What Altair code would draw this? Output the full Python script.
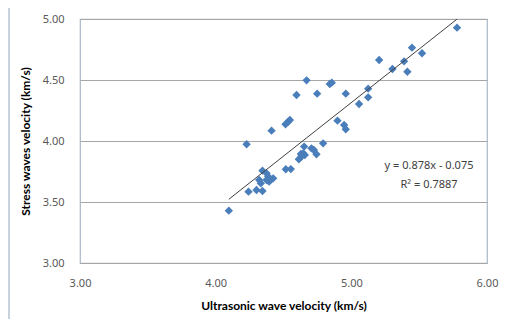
import altair as alt
import pandas as pd
import numpy as np

ultrasonic = [4.097, 4.228, 4.242, 4.301, 4.345, 4.321, 4.333, 4.345, 4.375, 4.387,
              4.375, 4.404, 4.424, 4.394, 4.412, 4.515, 4.534, 4.547, 4.517, 4.554,
              4.596, 4.670, 4.748, 4.841, 4.856, 4.959, 4.898, 4.947, 4.959, 4.652,
              4.706, 4.724, 4.743, 4.792, 4.613, 4.633, 4.645, 4.657, 4.628, 5.057,
              5.124, 5.124, 5.205, 5.303, 5.389, 5.413, 5.447, 5.521, 5.779]
stress = [3.429, 3.973, 3.585, 3.598, 3.590, 3.680, 3.653, 3.757, 3.735, 3.708,
          3.680, 3.689, 3.694, 3.667, 4.085, 4.137, 4.158, 4.172, 3.768, 3.770,
          4.377, 4.497, 4.388, 4.467, 4.478, 4.388, 4.167, 4.131, 4.096, 3.954,
          3.940, 3.926, 3.891, 3.981, 3.850, 3.872, 3.899, 3.885, 3.893, 4.303,
          4.429, 4.358, 4.664, 4.590, 4.653, 4.568, 4.765, 4.719, 4.929]

slope = 0.878
intercept = -0.075
eq_text = "y = 0.878x  -  0.075"
r2_text = "R² = 0.7887"
x_ticks = [3.0, 4.0, 5.0, 6.0]
y_ticks = [3.0, 3.5, 4.0, 4.5, 5.0]

df = pd.DataFrame({"x": ultrasonic, "y": stress})
xs = [min(ultrasonic), max(ultrasonic)]
trend = pd.DataFrame({"x": xs, "y": [slope * v + intercept for v in xs]})

FONT = "Noto Sans"
TFONT = "Lato"
W, H = 407, 244

xscale = alt.Scale(domain=[3, 6], nice=False)
yscale = alt.Scale(domain=[3, 5], nice=False)

xaxis = alt.Axis(title="Ultrasonic wave velocity (km/s)", values=x_ticks, format=".2f",
                 grid=False, ticks=False, domain=False, labelPadding=14, labelFlush=False,
                 labelFontSize=11, labelColor="#595959", labelFont=FONT,
                 titleFont=TFONT, titleFontSize=12, titleFontWeight="bold",
                 titleColor="#000000", titlePadding=12)
yaxis = alt.Axis(title="Stress waves velocity (km/s)", values=y_ticks, format=".2f",
                 grid=True, gridColor="#a6a6a6", ticks=False, domain=False, labelFlush=False,
                 labelPadding=16, labelFontSize=11, labelColor="#595959", labelFont=FONT,
                 titleFont=TFONT, titleFontSize=12, titleFontWeight="bold",
                 titleColor="#000000", titlePadding=10)

frame = alt.Chart(pd.DataFrame({"a": [0]})).mark_rect(
    fill=None, stroke="#b4c4d4", strokeWidth=1.5, clip=False
).encode(x=alt.value(-71), x2=alt.value(600), y=alt.value(-15), y2=alt.value(400))

points = alt.Chart(df).mark_point(shape="diamond", filled=True, size=70,
                                  color="#4a7ebb", opacity=1).encode(
    x=alt.X("x:Q", scale=xscale, axis=xaxis),
    y=alt.Y("y:Q", scale=yscale, axis=yaxis),
)

line = alt.Chart(trend).mark_line(color="#404040", strokeWidth=1).encode(
    x=alt.X("x:Q", scale=xscale),
    y=alt.Y("y:Q", scale=yscale),
)

ann = alt.Chart(pd.DataFrame({"t": [eq_text, r2_text], "py": [147, 166]})).mark_text(
    font=FONT, fontSize=11, color="#404040", align="center", baseline="middle"
).encode(text="t:N", x=alt.value(349), y=alt.Y("py:Q", scale=None))

chart = alt.layer(frame, points, line, ann).properties(
    width=W, height=H,
    autosize=alt.AutoSizeParams(type="none"),
    padding={"left": 72, "top": 11, "right": 16, "bottom": 56},
).configure_view(stroke="#a9b8c8", strokeWidth=1.2)

chart.save("out.html", embed_options={"renderer": "svg", "actions": False})
